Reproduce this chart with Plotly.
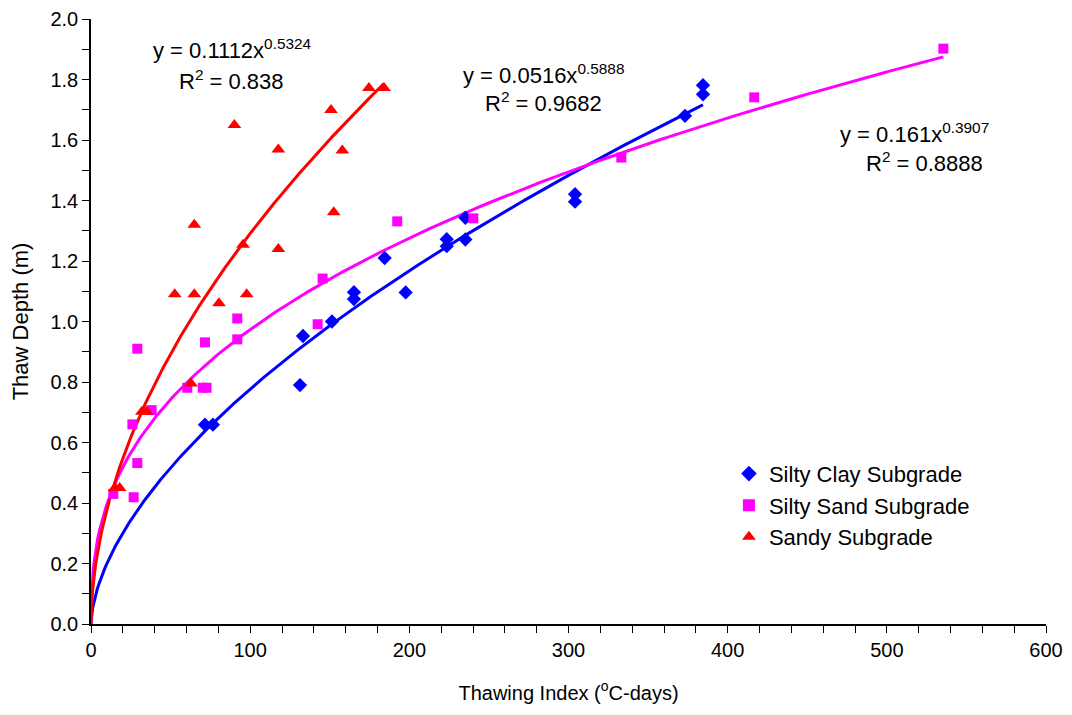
import numpy as np
import plotly.graph_objects as go

# Silty Clay Subgrade
clay_x = [71.6, 76.6, 131.3, 133.2, 151.4, 165.2, 165.2, 184.5, 197.7, 223.5, 223.5,
          235.2, 235.2, 304.1, 304.1, 373.2, 384.5, 384.5]
clay_y = [0.659, 0.659, 0.790, 0.952, 1.000, 1.074, 1.097, 1.210, 1.096, 1.272, 1.249,
          1.343, 1.271, 1.421, 1.396, 1.680, 1.781, 1.751]

# Silty Sand Subgrade
sand_x = [14.0, 26.0, 26.8, 29.1, 29.1, 38.1, 60.5, 70.2, 72.6, 71.6, 91.9, 91.9,
          142.4, 145.5, 192.4, 240.2, 333.2, 416.7, 535.5]
sand_y = [0.430, 0.660, 0.419, 0.910, 0.532, 0.707, 0.781, 0.781, 0.781, 0.931, 1.010, 0.941,
          0.991, 1.142, 1.331, 1.341, 1.542, 1.741, 1.902]

# Sandy Subgrade
sandy_x = [15.0, 18.0, 32.0, 35.0, 52.6, 62.8, 64.9, 64.9, 80.4, 90.1, 95.5, 97.8,
           117.7, 117.7, 150.8, 152.5, 157.9, 174.6, 184.1]
sandy_y = [0.450, 0.450, 0.702, 0.702, 1.090, 0.795, 1.090, 1.320, 1.060, 1.650, 1.254, 1.090,
           1.569, 1.240, 1.699, 1.361, 1.565, 1.772, 1.772]

# Power trendlines y = a * x^b (coefficients shown on the chart)
names = ["Silty Clay Subgrade", "Silty Sand Subgrade", "Sandy Subgrade"]
coef_a = [0.0516, 0.161, 0.1112]
coef_b = [0.5888, 0.3907, 0.5324]
r2 = ["0.9682", "0.8888", "0.838"]
fit_xmax = [384.5, 535.5, 184.1]

colors = ["#0000FF", "#FF00FF", "#FF0000"]
symbols = ["diamond", "square", "triangle-up"]
sizes = [11, 10, 12]

FONT = "Liberation Sans, Arial, sans-serif"

fig = go.Figure()

series = [(clay_x, clay_y), (sand_x, sand_y), (sandy_x, sandy_y)]

# trendlines first (under markers)
for i in range(3):
    xs = np.linspace(0.05, fit_xmax[i], 400)
    ys = coef_a[i] * xs ** coef_b[i]
    xs = np.concatenate([[0.0], xs])
    ys = np.concatenate([[0.0], ys])
    fig.add_trace(go.Scatter(x=xs, y=ys, mode="lines",
                             line=dict(color=colors[i], width=3),
                             showlegend=False, hoverinfo="skip"))

for i in range(3):
    fig.add_trace(go.Scatter(x=series[i][0], y=series[i][1], mode="markers", name=names[i],
                             marker=dict(color=colors[i], symbol=symbols[i], size=sizes[i],
                                         line=dict(width=0))))

# equation annotations (two lines each): x line1, x line2, y line1, y line2
eq_x1 = [284.0, 517.6, 88.6]
eq_x2 = [284.2, 523.5, 88.4]
eq_y1 = [1.819, 1.624, 1.901]
eq_y2 = [1.727, 1.526, 1.799]
for i in range(3):
    fig.add_annotation(x=eq_x1[i], y=eq_y1[i], xref="x", yref="y", showarrow=False,
                       text=f"y = {coef_a[i]}x<sup>{coef_b[i]}</sup>",
                       font=dict(family=FONT, size=22, color="black"))
    fig.add_annotation(x=eq_x2[i], y=eq_y2[i], xref="x", yref="y", showarrow=False,
                       text=f"R<sup>2</sup> = {r2[i]}",
                       font=dict(family=FONT, size=22, color="black"))

# page has an 8px body margin; margins compensate so the plot area sits at
# about x 91..1046, y 19..624 of the window
fig.update_layout(
    width=1072, height=715,
    margin=dict(l=83, r=34, t=11, b=99),
    paper_bgcolor="white", plot_bgcolor="white",
    font=dict(family=FONT, size=20, color="black"),
    legend=dict(x=0.668, y=0.283, xanchor="left", yanchor="top",
                font=dict(family=FONT, size=22, color="black"),
                bgcolor="rgba(0,0,0,0)", itemsizing="constant",
                tracegroupgap=4),
    showlegend=True,
)

fig.update_xaxes(range=[0, 600], dtick=100, tick0=0, automargin=False,
                 ticklabeloverflow="allow",
                 showline=True, linecolor="black", linewidth=1.5,
                 ticks="outside", ticklen=7, tickwidth=1.2, tickcolor="black",
                 minor=dict(dtick=20, ticks="outside", ticklen=7, tickwidth=1.2, tickcolor="black"),
                 showgrid=False, zeroline=False,
                 tickfont=dict(family=FONT, size=20),
                 title=dict(text="Thawing Index (<sup>o</sup>C-days)", standoff=26,
                            font=dict(family=FONT, size=20)))
fig.update_yaxes(range=[0, 2.0], dtick=0.2, tick0=0, tickformat=".1f", automargin=False,
                 ticklabeloverflow="allow",
                 showline=True, linecolor="black", linewidth=1.5,
                 ticks="outside", ticklen=7, tickwidth=1.2, tickcolor="black",
                 minor=dict(dtick=0.1, ticks="outside", ticklen=7, tickwidth=1.2, tickcolor="black"),
                 showgrid=False, zeroline=False,
                 tickfont=dict(family=FONT, size=20),
                 title=dict(text="Thaw Depth (m)", standoff=20,
                            font=dict(family=FONT, size=22)))

fig.write_html("out.html")
